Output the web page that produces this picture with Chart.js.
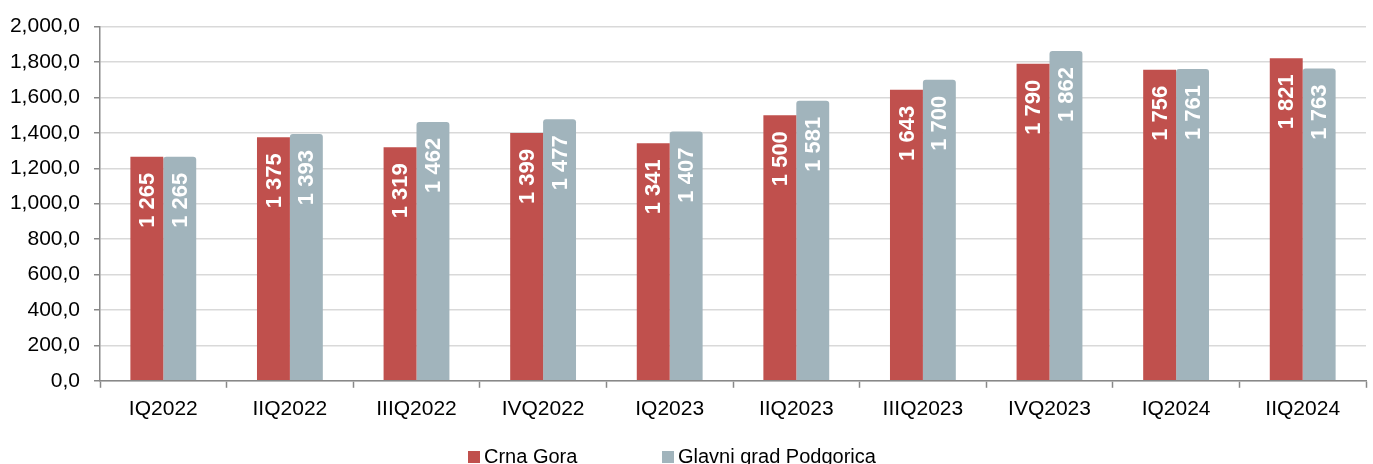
<!DOCTYPE html>
<html>
<head>
<meta charset="utf-8">
<script src="https://cdn.jsdelivr.net/npm/chart.js@4.4.1/dist/chart.umd.min.js"></script>
<style>
  html, body { margin: 0; padding: 0; background: #fff; overflow: hidden; }
  #wrap { position: relative; width: 1373px; height: 464px; }
  #legend { position: absolute; top: 445px; left: 0; width: 1373px; height: 30px;
            font: 20px "Liberation Sans", Arial, sans-serif; color: #000; white-space: nowrap; }
  #legend span.item { position: absolute; top: 0; }
  #legend span.box { display: inline-block; width: 12px; height: 12px; margin-right: 4px; vertical-align: 0px; }
</style>
</head>
<body>
<div id="wrap"><canvas id="chart"></canvas><div id="legend"></div></div>
<script>
// Quarters and average values
const quarters = ['IQ2022', 'IIQ2022', 'IIIQ2022', 'IVQ2022', 'IQ2023', 'IIQ2023', 'IIIQ2023', 'IVQ2023', 'IQ2024', 'IIQ2024'];
const crnaGora = [1265, 1375, 1319, 1399, 1341, 1500, 1643, 1790, 1756, 1821];
const podgorica = [1265, 1393, 1462, 1477, 1407, 1581, 1700, 1862, 1761, 1763];

const FONT = '"Liberation Sans", Arial, sans-serif';
const legendLeft = [468, 662];

// white rotated value labels inside the top of each bar
const barLabels = {
    id: 'barLabels',
    afterDatasetsDraw(chart) {
        const ctx = chart.ctx;
        ctx.save();
        ctx.fillStyle = '#ffffff';
        ctx.font = 'bold 22px ' + FONT;
        ctx.textAlign = 'right';
        ctx.textBaseline = 'middle';
        chart.data.datasets.forEach((ds, i) => {
            chart.getDatasetMeta(i).data.forEach((bar, j) => {
                const txt = ds.data[j].toLocaleString('en-US').replace(',', ' ');
                ctx.save();
                ctx.translate(bar.x + 1, bar.y + 16);
                ctx.rotate(-Math.PI / 2);
                ctx.fillText(txt, 0, 0);
                ctx.restore();
            });
        });
        ctx.restore();
    }
};

const ctx = document.getElementById('chart').getContext('2d');
const chart = new Chart(ctx, {
    type: 'bar',
    data: {
        labels: quarters,
        datasets: [{
            label: 'Crna Gora',
            data: crnaGora,
            backgroundColor: '#c0504d',
            categoryPercentage: 0.52,
            barPercentage: 1.0
        }, {
            label: 'Glavni grad Podgorica',
            data: podgorica,
            backgroundColor: '#a1b4bc',
            borderRadius: { topLeft: 3, topRight: 3 },
            borderSkipped: 'bottom',
            categoryPercentage: 0.52,
            barPercentage: 1.0
        }]
    },
    options: {
        responsive: true,
        maintainAspectRatio: false,
        animation: false,
        layout: { padding: { top: 9, right: 7, left: 0, bottom: 33 } },
        plugins: {
            tooltip: { enabled: false },
            legend: { display: false }
        },
        scales: {
            x: {
                grid: { drawOnChartArea: false, offset: true, tickLength: 7, tickColor: '#888', tickWidth: 1.5 },
                border: { color: '#888', width: 1.5 },
                ticks: { color: '#000', font: { family: FONT, size: 21 }, padding: 9 }
            },
            y: {
                min: 0,
                max: 2000,
                afterFit(scale) { scale.width = 100; },
                grid: { color: '#d9d9d9', lineWidth: 1.5, tickLength: 6, tickColor: '#888', tickWidth: 1.5 },
                border: { color: '#888', width: 1.5 },
                ticks: {
                    stepSize: 200,
                    color: '#000',
                    font: { family: FONT, size: 21 },
                    padding: 14,
                    callback: v => v.toLocaleString('en-US') + ',0'
                }
            }
        }
    },
    plugins: [barLabels]
});

// legend built from the datasets
const legend = document.getElementById('legend');
chart.data.datasets.forEach((ds, i) => {
    const item = document.createElement('span');
    item.className = 'item';
    item.style.left = legendLeft[i] + 'px';
    item.innerHTML = '<span class="box" style="background:' + ds.backgroundColor + '"></span>' + ds.label;
    legend.appendChild(item);
});
</script>
</body>
</html>
